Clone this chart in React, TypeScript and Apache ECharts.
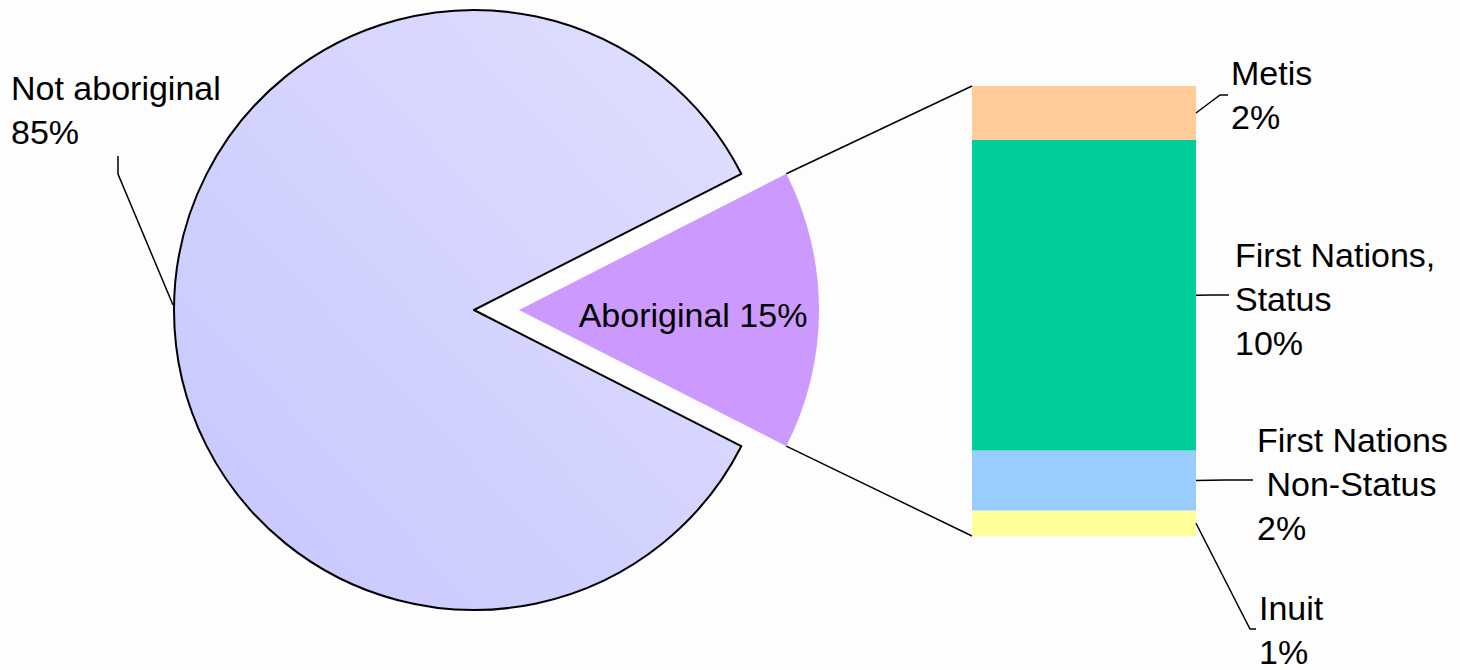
import React, { useEffect, useRef } from 'react';
import * as echarts from 'echarts';

// ---- data ----
const pieNames = ['Aboriginal', 'Not aboriginal'];
const pieValues = [15, 85];
const pieColors = ['#cc99ff', 'gradient'];

// stacked bar, bottom to top
const barNames = ['Inuit', 'First Nations\n Non-Status', 'First Nations,\nStatus', 'Metis'];
const barValues = [0.85, 2.0, 10.35, 1.8];
const barColors = ['#ffff99', '#99ccff', '#00cc99', '#ffcc99'];

// ---- layout ----
const W = 1460;
const H = 670;
const CX = 474;
const CY = 310;
const R = 300;
const OFFSET = 45;
const GRID = { left: 972, top: 86, width: 224, height: 450 };
const FONT = "'Liberation Sans', Arial, sans-serif";

// label boxes (left/top) and leader-line tail points for bar labels, bottom to top
const barLabelLayout = [
  { x: 1259, y: 586, tail: [[1250, 629], [1256, 629]] },
  { x: 1257, y: 418, tail: [[1225, 480], [1253, 480]] },
  { x: 1235, y: 233, tail: [[1212, 295], [1229, 295]] },
  { x: 1231, y: 51, tail: [[1220, 95], [1228, 95]] },
];

export default function App() {
  const ref = useRef<HTMLDivElement>(null);

  useEffect(() => {
    if (!ref.current) return;
    document.body.style.margin = '0';
    const chart = echarts.init(ref.current, undefined, { renderer: 'svg' });

    const total = pieValues.reduce((a, b) => a + b, 0);
    const half = (pieValues[0] / total) * 180;
    const halfRad = (half * Math.PI) / 180;
    const apexX = CX + OFFSET;
    const topCorner = [apexX + R * Math.cos(halfRad), CY - R * Math.sin(halfRad)];
    const botCorner = [apexX + R * Math.cos(halfRad), CY + R * Math.sin(halfRad)];
    const barTotal = barValues.reduce((a, b) => a + b, 0);

    const textStyle = {
      fontSize: 34,
      fontFamily: FONT,
      color: '#000',
      lineHeight: 44,
    };
    const lineStyle = { color: '#000', width: 1.5 };

    const gradient = new echarts.graphic.LinearGradient(0, 1, 1, 0, [
      { offset: 0, color: '#c6c6ff' },
      { offset: 1, color: '#e0e0ff' },
    ]);

    const pieData = pieNames.map((name, i) => {
      if (i === 0) {
        return {
          name,
          value: pieValues[i],
          selected: true,
          itemStyle: { color: pieColors[i], borderWidth: 0 },
          select: { itemStyle: { color: pieColors[i], borderWidth: 0 } },
          label: { show: false },
          labelLine: { show: false },
        };
      }
      return {
        name,
        value: pieValues[i],
        itemStyle: { color: gradient, borderColor: '#000', borderWidth: 2 },
        label: { show: true, position: 'outside', formatter: '{b}\n{d}%', ...textStyle },
        labelLine: { show: true, lineStyle },
      };
    });

    const aborigPct = Math.round((pieValues[0] / total) * 100);
    const aborigText = `${pieNames[0]} ${aborigPct}%`;

    // bar segment midpoints (in value units) for leader lines
    let cum = 0;
    const leaderLines: any[] = [];
    barValues.forEach((v, i) => {
      const mid = cum + v / 2;
      cum += v;
      const y = GRID.top + GRID.height * (1 - mid / barTotal);
      const start = [GRID.left + GRID.width, y];
      const L = barLabelLayout[i];
      leaderLines.push({
        type: 'polyline',
        z: 100,
        shape: { points: [start, L.tail[0], L.tail[1]] },
        style: { stroke: '#000', lineWidth: 1.5, fill: null },
        silent: true,
      });
    });

    const barSeries = barNames.map((name, i) => ({
      type: 'bar',
      name,
      stack: 'ab',
      data: [barValues[i]],
      barWidth: '100%',
      itemStyle: { color: barColors[i] },
      label: {
        show: true,
        position: 'right',
        formatter: (p: any) => `${p.seriesName}\n${Math.round(p.value)}%`,
        ...textStyle,
        align: 'left',
      },
      labelLayout: () => {
        const L = barLabelLayout[i];
        return { x: L.x, y: L.y, align: 'left', verticalAlign: 'top' };
      },
      emphasis: { disabled: true },
    }));

    const option: any = {
      animation: false,
      backgroundColor: '#fdfdfd',
      grid: { ...GRID, containLabel: false },
      xAxis: { type: 'category', data: [''], show: false },
      yAxis: { type: 'value', min: 0, max: barTotal, show: false },
      series: [
        {
          type: 'pie',
          center: [CX, CY],
          radius: R,
          startAngle: half,
          clockwise: true,
          selectedMode: 'single',
          selectedOffset: OFFSET,
          percentPrecision: 0,
          avoidLabelOverlap: false,
          emphasis: { disabled: true },
          data: pieData,
          labelLayout: () => ({
            x: 11,
            y: 66,
            align: 'left',
            verticalAlign: 'top',
            labelLinePoints: [
              [173, 305],
              [118, 174],
              [118, 156],
            ],
          }),
        },
        ...barSeries,
      ],
      graphic: [
        {
          type: 'polyline',
          z: 100,
          shape: { points: [topCorner, [GRID.left, GRID.top]] },
          style: { stroke: '#000', lineWidth: 1.5, fill: null },
          silent: true,
        },
        {
          type: 'polyline',
          z: 100,
          shape: { points: [botCorner, [GRID.left, GRID.top + GRID.height]] },
          style: { stroke: '#000', lineWidth: 1.5, fill: null },
          silent: true,
        },
        ...leaderLines,
        {
          type: 'text',
          x: 693,
          y: 315,
          z: 100,
          silent: true,
          style: {
            text: aborigText,
            fill: '#000',
            fontSize: 34,
            fontFamily: FONT,
            align: 'center',
            verticalAlign: 'middle',
            textAlign: 'center',
            textVerticalAlign: 'middle',
          },
        },
      ],
    };

    chart.setOption(option);
    return () => chart.dispose();
  }, []);

  return (
    <div
      ref={ref}
      style={{ position: 'fixed', left: 0, top: 0, width: W, height: H }}
    />
  );
}
